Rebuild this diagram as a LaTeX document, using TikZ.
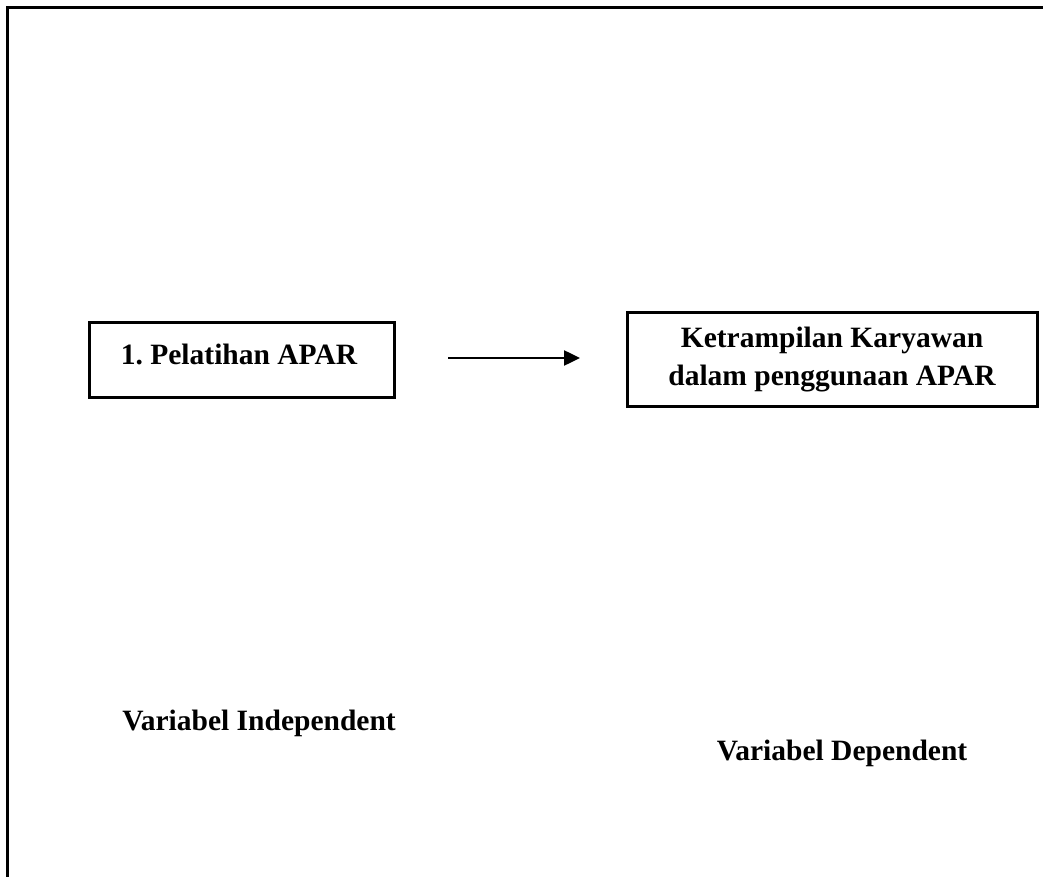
\documentclass[tikz,border=0pt]{standalone}
\usepackage{fontspec}
\setmainfont{Liberation Serif}
\usetikzlibrary{arrows.meta}
\begin{document}
\frenchspacing
\begin{tikzpicture}[x=1pt,y=-1pt,
  box/.style={draw=black,line width=3pt,inner sep=0pt},
  lbl/.style={font=\fontsize{29.5}{38}\selectfont\bfseries,align=center,inner sep=0pt},
  frame/.style={line width=3pt,black}]
\useasboundingbox (0,0) rectangle (1052,877);
\coordinate (fl) at (7,877);
\coordinate (ftl) at (7,8);
\coordinate (ftr) at (1043,8);
\draw[frame] (fl) -- (ftl) -- (ftr);
\node[box,minimum width=305pt,minimum height=75pt] (b1) at (241.5,359.5) {};
\node[lbl] (t1) at (239,354) {1.\ Pelatihan APAR};
\node[box,minimum width=410pt,minimum height=93pt] (b2) at (832,359.5) {};
\node[lbl] (t2) at (832,360) {Ketrampilan Karyawan\\dalam penggunaan APAR};
\coordinate (a1) at (448,358);
\coordinate (a2) at (580,358);
\draw[line width=2.5pt,-{Triangle[length=16pt,width=15pt]}] (a1) -- (a2);
\node[lbl] (v1) at (259,723) {Variabel Independent};
\node[lbl] (v2) at (842,753) {Variabel Dependent};
\end{tikzpicture}
\end{document}
